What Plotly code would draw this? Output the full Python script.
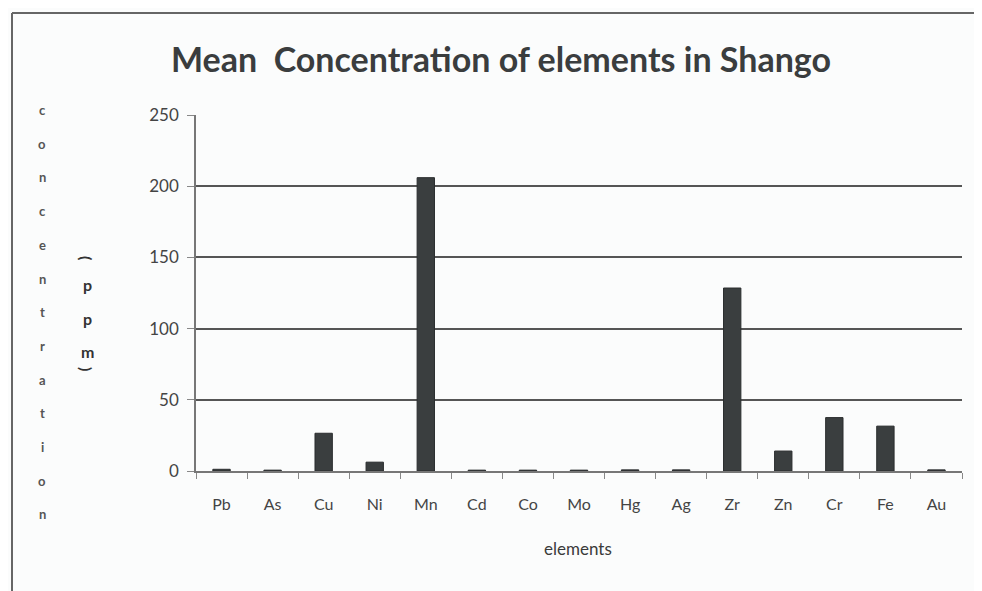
import plotly.graph_objects as go

elements = ["Pb", "As", "Cu", "Ni", "Mn", "Cd", "Co", "Mo", "Hg", "Ag", "Zr", "Zn", "Cr", "Fe", "Au"]
concentration = [1.2, 0.6, 26.5, 6.2, 206, 0.6, 0.6, 0.6, 0.8, 0.8, 128.5, 14, 37.5, 31.5, 0.8]
y_ticks = [0, 50, 100, 150, 200, 250]
title_text = "Mean  Concentration of elements in Shango"
x_title = "elements"
y_word = "concentration"
y_unit = ["(", "p", "p", "m", ")"]

OFF = 8  # page body margin
W, H = 982 - OFF, 591 - OFF
ML, MR, MT, MB = 196 - OFF, 20, 115 - OFF, 120
PW, PH = W - ML - MR, H - MT - MB

def px_x(px):
    # reference pixel x -> paper coordinate
    return (px - OFF - ML) / PW

def px_y(py):
    return (H - MB - (py - OFF)) / PH

font_family = "Lato, 'Open Sans', sans-serif"

fig = go.Figure()
fig.add_trace(go.Bar(
    x=elements, y=concentration,
    marker=dict(color="#3a3e3f", line=dict(color="#2a2d2e", width=1)),
    width=0.34,
))

annotations = []
y0 = 110
step = 33.7
for i, ch in enumerate(y_word):
    annotations.append(dict(
        text="<b>" + ch + "</b>", x=px_x(42), y=px_y(y0 + i * step),
        xref="paper", yref="paper", showarrow=False,
        font=dict(family=font_family, size=13, color="#555"),
        xanchor="center", yanchor="middle",
    ))
unit_pos = [258, 284, 318, 351, 369]
for ch, py in zip(y_unit, unit_pos):
    annotations.append(dict(
        text="<b>" + ch + "</b>", x=px_x(87), y=px_y(py),
        xref="paper", yref="paper", showarrow=False,
        textangle=90 if ch in "()" else 0,
        font=dict(family=font_family, size=16, color="#333"),
        xanchor="center", yanchor="middle",
    ))
annotations.append(dict(
    text=x_title, x=px_x(578), y=px_y(548),
    xref="paper", yref="paper", showarrow=False,
    font=dict(family=font_family, size=17, color="#3a3a3a"),
    xanchor="center", yanchor="middle",
))

fig.update_layout(
    width=W, height=H,
    margin=dict(l=ML, r=MR, t=MT, b=MB),
    paper_bgcolor="#fbfcfc",
    plot_bgcolor="#fbfcfc",
    showlegend=False,
    title=dict(
        text="<b>" + title_text + "</b>",
        x=(501 - OFF) / W, xanchor="center",
        y=1 - (60 - OFF) / H, yanchor="middle",
        font=dict(family=font_family, size=34, color="#3a3d3e"),
    ),
    xaxis=dict(
        showline=True, linecolor="#777", linewidth=1.5,
        ticks="outside", tickson="boundaries", ticklen=6, tickcolor="#888",
        tickfont=dict(family=font_family, size=16, color="#444"),
        ticklabelstandoff=18,
        showgrid=False,
    ),
    yaxis=dict(
        range=[0, 250], tickvals=y_ticks,
        showline=True, linecolor="#777", linewidth=1.5,
        ticks="outside", ticklen=7, tickcolor="#888",
        tickfont=dict(family=font_family, size=17, color="#444"),
        ticklabelstandoff=5,
        showgrid=True, gridcolor="#555", gridwidth=1.6,
        zeroline=False,
    ),
    annotations=annotations,
    shapes=[
        dict(type="line", xref="paper", yref="paper",
             x0=px_x(12), x1=px_x(982), y0=px_y(13), y1=px_y(13),
             line=dict(color="#666", width=2)),
        dict(type="line", xref="paper", yref="paper",
             x0=px_x(12), x1=px_x(12), y0=px_y(13), y1=px_y(591),
             line=dict(color="#666", width=2)),
    ],
)

fig.write_html("out.html")
